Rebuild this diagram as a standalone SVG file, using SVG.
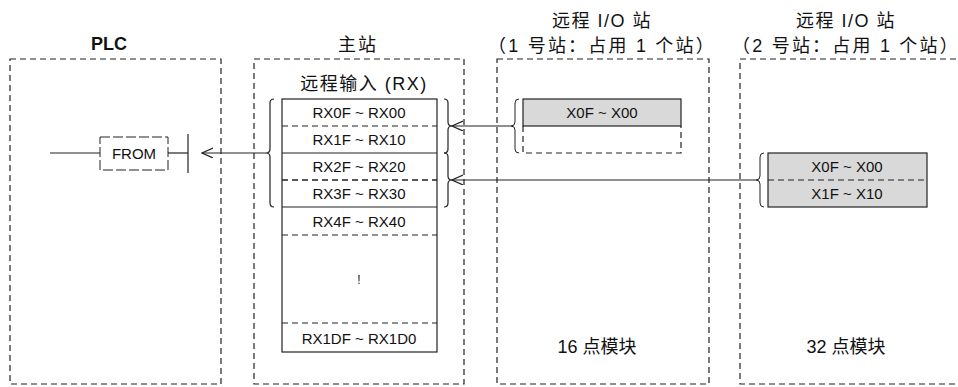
<svg xmlns="http://www.w3.org/2000/svg" width="958" height="387" viewBox="0 0 958 387">
<style>
.panel{fill:none;stroke:#222;stroke-width:1.2;stroke-dasharray:6,4}
.t{font-family:"Liberation Sans","Noto Sans CJK SC",sans-serif;fill:#111;text-anchor:middle}
.h{font-size:18px}
.s{font-size:15px}
.ln{fill:none;stroke:#222;stroke-width:1.2}
.dl{fill:none;stroke:#222;stroke-width:1.2;stroke-dasharray:6,4}
.gray{fill:#d9d9d9}
</style>
<defs>
<marker id="ah" markerWidth="12" markerHeight="12" refX="11" refY="5" orient="auto" markerUnits="userSpaceOnUse">
<path d="M0,0 L11,5 L0,10" fill="none" stroke="#222" stroke-width="1.2"/>
</marker>
</defs>

<g id="plc">
<rect class="panel" x="10" y="59" width="211" height="325"/>
<text class="t" x="109" y="50" style="font-size:18px;font-weight:bold">PLC</text>
<line class="ln" x1="50" y1="153" x2="100" y2="153"/>
<rect x="100" y="137" width="68" height="33" fill="none" stroke="#222" stroke-width="1" stroke-dasharray="10,3"/>
<text class="t s" x="134" y="159">FROM</text>
<line class="ln" x1="168" y1="153" x2="188" y2="153"/>
<line class="ln" x1="188" y1="134" x2="188" y2="173"/>
</g>

<g id="master">
<rect class="panel" x="254" y="59" width="210" height="325"/>
<text class="t h" x="358" y="51" style="letter-spacing:2px">主站</text>
<text class="t h" x="364" y="90" style="letter-spacing:1.5px">远程输入 (RX)</text>
<rect x="282" y="99" width="155" height="253" fill="none" stroke="#222" stroke-width="1.2"/>
<line class="dl" x1="282" y1="126" x2="437" y2="126"/>
<line class="ln" x1="282" y1="153" x2="437" y2="153"/>
<line class="dl" x1="282" y1="180" x2="437" y2="180" style="stroke-width:1.6"/>
<line class="ln" x1="282" y1="207" x2="437" y2="207"/>
<line class="dl" x1="282" y1="235" x2="437" y2="235"/>
<line class="dl" x1="282" y1="323" x2="437" y2="323"/>
<text class="t s" x="359" y="118">RX0F ~ RX00</text>
<text class="t s" x="359" y="145">RX1F ~ RX10</text>
<text class="t s" x="359" y="172">RX2F ~ RX20</text>
<text class="t s" x="359" y="199">RX3F ~ RX30</text>
<text class="t s" x="359" y="227">RX4F ~ RX40</text>
<text class="t" x="359" y="284" style="font-size:12px">!</text>
<text class="t s" x="359" y="344">RX1DF ~ RX1D0</text>
<path class="ln" d="M274,99 Q270,99 270,103 L270,149 Q270,153 266,153 Q270,153 270,157 L270,203 Q270,207 274,207"/>
<path class="ln" d="M444,99 Q448,99 448,103 L448,122 Q448,126 452,126 Q448,126 448,130 L448,149 Q448,153 444,153"/>
<path class="ln" d="M444,153 Q448,153 448,157 L448,176 Q448,180 452,180 Q448,180 448,184 L448,203 Q448,207 444,207"/>
</g>

<g id="remote1">
<rect class="panel" x="497" y="59" width="212" height="325"/>
<text class="t h" x="602" y="27" style="letter-spacing:1.5px">远程 I/O 站</text>
<text class="t h" x="602" y="52" style="letter-spacing:2.2px">（1 号站：占用 1 个站）</text>
<rect class="gray" x="523" y="99" width="158" height="27" stroke="#222" stroke-width="1.2"/>
<path class="dl" d="M523,126 L523,153 L681,153 L681,126"/>
<text class="t s" x="602" y="118">X0F ~ X00</text>
<path class="ln" d="M519,99 Q515,99 515,103 L515,122 Q515,126 511,126 Q515,126 515,130 L515,149 Q515,153 519,153" style="stroke-width:1"/>
<text class="t h" x="597" y="353">16 点模块</text>
</g>

<g id="remote2">
<rect class="panel" x="740" y="59" width="225" height="325"/>
<text class="t h" x="846" y="27" style="letter-spacing:1.5px">远程 I/O 站</text>
<text class="t h" x="846" y="52" style="letter-spacing:2.2px">（2 号站：占用 1 个站）</text>
<rect class="gray" x="768" y="153" width="159" height="54" stroke="#222" stroke-width="1.2"/>
<line class="dl" x1="768" y1="180" x2="927" y2="180"/>
<text class="t s" x="847" y="172">X0F ~ X00</text>
<text class="t s" x="847" y="199">X1F ~ X10</text>
<path class="ln" d="M764,153 Q760,153 760,157 L760,176 Q760,180 756,180 Q760,180 760,184 L760,203 Q760,207 764,207" style="stroke-width:1"/>
<text class="t h" x="846" y="353">32 点模块</text>
</g>

<g id="connectors">
<line class="ln" x1="511" y1="126" x2="452" y2="126" marker-end="url(#ah)"/>
<line class="ln" x1="756" y1="180" x2="452" y2="180" marker-end="url(#ah)"/>
<line class="ln" x1="266" y1="153" x2="202" y2="153" marker-end="url(#ah)"/>
</g>
</svg>
